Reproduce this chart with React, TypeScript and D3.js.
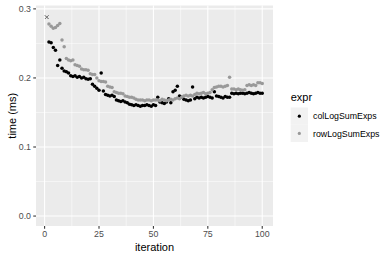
import React from "react";
import * as d3 from "d3";

const seriesNames = ["colLogSumExps", "rowLogSumExps"];
const seriesColors = ["#000000", "#999999"];

const colValues = [
  0.288, 0.252, 0.251, 0.244, 0.240, 0.218, 0.226, 0.214, 0.210, 0.209,
  0.207, 0.203, 0.202, 0.203, 0.201, 0.202, 0.200, 0.201, 0.199, 0.198,
  0.199, 0.191, 0.188, 0.185, 0.182, 0.207, 0.181, 0.176, 0.175, 0.174,
  0.175, 0.173, 0.168, 0.167, 0.166, 0.167, 0.165, 0.164, 0.162, 0.161,
  0.160, 0.161, 0.160, 0.159, 0.160, 0.160, 0.161, 0.160, 0.159, 0.161,
  0.160, 0.172, 0.165, 0.164, 0.163, 0.165, 0.170, 0.164, 0.180, 0.182,
  0.188, 0.174, 0.172, 0.169, 0.168, 0.167, 0.168, 0.187, 0.170, 0.172,
  0.171, 0.172, 0.171, 0.172, 0.173, 0.172, 0.171, 0.180, 0.174, 0.173,
  0.172, 0.171, 0.173, 0.172, 0.172, 0.178, 0.177, 0.178, 0.177, 0.178,
  0.178, 0.177, 0.178, 0.179, 0.178, 0.177, 0.178, 0.179, 0.178, 0.178,
];

const rowValues = [
  0.288, 0.278, 0.275, 0.272, 0.273, 0.276, 0.279, 0.255, 0.245, 0.228,
  0.226, 0.225, 0.226, 0.219, 0.218, 0.217, 0.213, 0.212, 0.212, 0.211,
  0.206, 0.205, 0.205, 0.200, 0.196, 0.195, 0.195, 0.194, 0.188, 0.187,
  0.186, 0.180, 0.179, 0.178, 0.178, 0.177, 0.174, 0.173, 0.172, 0.172,
  0.171, 0.169, 0.168, 0.168, 0.168, 0.167, 0.168, 0.168, 0.167, 0.168,
  0.168, 0.168, 0.167, 0.169, 0.168, 0.167, 0.168, 0.169, 0.168, 0.170,
  0.171, 0.170, 0.172, 0.174, 0.175, 0.174, 0.175, 0.174, 0.176, 0.178,
  0.177, 0.178, 0.179, 0.177, 0.178, 0.179, 0.183, 0.186, 0.187, 0.188,
  0.188, 0.187, 0.188, 0.189, 0.201, 0.184, 0.184, 0.183, 0.184, 0.183,
  0.182, 0.183, 0.189, 0.190, 0.189, 0.190, 0.189, 0.193, 0.193, 0.192,
];

const xTicks = [0, 25, 50, 75, 100];
const xMinor = [12.5, 37.5, 62.5, 87.5];
const yTicks = [0, 0.1, 0.2, 0.3];
const yMinor = [0.05, 0.15, 0.25];
const yTickLabels = ["0.0", "0.1", "0.2", "0.3"];

const W = 390;
const H = 260;
const panel = { left: 36, right: 273, top: 5.5, bottom: 226 };
const FONT = "'Liberation Sans', Arial, Helvetica, sans-serif";

export default function App() {
  const n = colValues.length;
  const x = d3
    .scaleLinear()
    .domain([1 - 0.05 * (n - 1), n + 0.05 * (n - 1)])
    .range([panel.left, panel.right]);
  const yMax = 0.288;
  const y = d3
    .scaleLinear()
    .domain([-0.05 * yMax, yMax * 1.05 + 0.0025])
    .range([panel.bottom, panel.top]);

  const all = [colValues, rowValues];

  return (
    <svg
      width={W}
      height={H}
      style={{ position: "absolute", left: 0, top: 0, background: "#fff" }}
      fontFamily={FONT}
    >
      <rect
        x={panel.left}
        y={panel.top}
        width={panel.right - panel.left}
        height={panel.bottom - panel.top}
        fill="#EBEBEB"
      />
      {xMinor.map((t) => (
        <line key={"xm" + t} x1={x(t)} x2={x(t)} y1={panel.top} y2={panel.bottom} stroke="#fff" strokeWidth={0.53} />
      ))}
      {yMinor.map((t) => (
        <line key={"ym" + t} x1={panel.left} x2={panel.right} y1={y(t)} y2={y(t)} stroke="#fff" strokeWidth={0.53} />
      ))}
      {xTicks.map((t) => (
        <line key={"xg" + t} x1={x(t)} x2={x(t)} y1={panel.top} y2={panel.bottom} stroke="#fff" strokeWidth={1.07} />
      ))}
      {yTicks.map((t) => (
        <line key={"yg" + t} x1={panel.left} x2={panel.right} y1={y(t)} y2={y(t)} stroke="#fff" strokeWidth={1.07} />
      ))}

      {all.map((vals, si) =>
        vals.map((v, i) =>
          i === 0 ? null : (
            <circle key={si + "-" + i} cx={x(i + 1)} cy={y(v)} r={1.75} fill={seriesColors[si]} />
          )
        )
      )}
      {all.map((vals, si) => {
        const cx = x(1);
        const cy = y(vals[0]);
        const s = 1.8;
        return (
          <g key={"first" + si} stroke="#777" strokeWidth={0.9}>
            <line x1={cx - s} y1={cy - s} x2={cx + s} y2={cy + s} />
            <line x1={cx - s} y1={cy + s} x2={cx + s} y2={cy - s} />
          </g>
        );
      })}

      {xTicks.map((t) => (
        <g key={"xt" + t}>
          <line x1={x(t)} x2={x(t)} y1={panel.bottom} y2={panel.bottom + 2.75} stroke="#333" strokeWidth={1.07} />
          <text x={x(t)} y={panel.bottom + 11} textAnchor="middle" fontSize={8.8} fill="#4D4D4D">
            {t}
          </text>
        </g>
      ))}
      {yTicks.map((t, i) => (
        <g key={"yt" + t}>
          <line x1={panel.left - 2.75} x2={panel.left} y1={y(t)} y2={y(t)} stroke="#333" strokeWidth={1.07} />
          <text x={panel.left - 5} y={y(t) + 3.1} textAnchor="end" fontSize={8.8} fill="#4D4D4D">
            {yTickLabels[i]}
          </text>
        </g>
      ))}

      <text x={(panel.left + panel.right) / 2} y={251} textAnchor="middle" fontSize={11} fill="#000">
        iteration
      </text>
      <text
        transform={`translate(15.5, ${(panel.top + panel.bottom) / 2}) rotate(-90)`}
        textAnchor="middle"
        fontSize={11}
        fill="#000"
      >
        time (ms)
      </text>

      <text x={290.7} y={101} fontSize={11} fill="#000">
        expr
      </text>
      {seriesNames.map((name, i) => {
        const ky = 107.5 + i * 17.28;
        return (
          <g key={name}>
            <rect x={290.7} y={ky} width={17.28} height={17.28} fill="#F2F2F2" />
            <circle cx={290.7 + 8.64} cy={ky + 8.64} r={1.6} fill={seriesColors[i]} />
            <text x={313} y={ky + 8.64 + 3.1} fontSize={8.8} fill="#000">
              {name}
            </text>
          </g>
        );
      })}
    </svg>
  );
}
